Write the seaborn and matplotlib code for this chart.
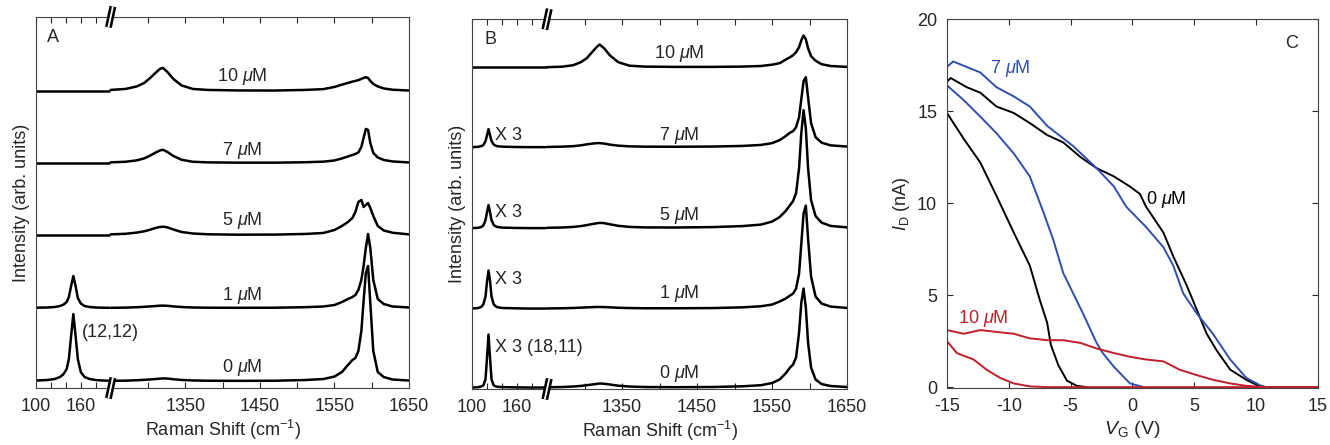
import numpy as np
import matplotlib
matplotlib.use("Agg")
import matplotlib.pyplot as plt
import seaborn as sns

sns.set_style("ticks")
plt.rcParams["font.family"] = ["Liberation Sans", "DejaVu Sans"]
plt.rcParams["mathtext.fontset"] = "custom"
plt.rcParams["mathtext.rm"] = "Liberation Sans"
plt.rcParams["mathtext.it"] = "Liberation Sans:italic"
plt.rcParams["mathtext.bf"] = "Liberation Sans:bold"
plt.rcParams["axes.unicode_minus"] = False

# ---- Raman spectra (intensity above each trace's baseline, arb. units) ----
conc = ["0", "1", "5", "7", "10"]

# high-wavenumber window (D and G bands), shared by A and B
x_hi = [1250, 1270, 1285, 1295, 1303, 1310, 1316, 1320, 1326, 1334, 1345, 1360, 1380,
        1420, 1470, 1510, 1535, 1550, 1560, 1568, 1574, 1578, 1582, 1586, 1589, 1592,
        1595, 1598, 1602, 1608, 1616, 1628, 1650]

# panel A, RBM window
xa_lo = [100, 115, 125, 132, 137, 141, 144, 147, 150, 153, 156, 160, 165, 172, 180, 190, 198]
a0_lo = [0.5, 1, 2, 4, 7, 12, 22, 45, 67, 45, 22, 9, 4, 2, 1, 0.5, 0.3]
a1_lo = [0.3, 0.5, 1, 2, 3.5, 6, 11, 22, 32, 22, 10, 4.5, 2, 1, 0.5, 0.3, 0.2]
a5_lo = [0, 0, 0, 0, 0, 0, 0, 0, 0, 0, 0, 0, 0, 0, 0, 0, 0]
a7_lo = [0, 0, 0, 0, 0, 0, 0, 0, 0, 0, 0, 0, 0, 0, 0, 0, 0]
a10_lo = [0, 0, 0, 0, 0, 0, 0, 0, 0, 0, 0, 0, 0, 0, 0, 0, 0]

a0_hi = [0.2, 0.4, 0.8, 1.2, 1.6, 2, 2.4, 2.6, 2.5, 1.8, 1.1, 0.6, 0.3, 0.2, 0.3, 1, 2,
         4.5, 9, 16, 21, 23, 30, 50, 80, 108, 115, 78, 30, 9, 4, 1.5, 0.5]
a1_hi = [0.2, 0.4, 0.8, 1.2, 1.6, 2, 2.3, 2.4, 2.2, 1.6, 1, 0.5, 0.3, 0.2, 0.3, 0.8, 1.5,
         3, 6, 9, 11, 13, 18, 28, 42, 60, 74, 60, 28, 9, 4, 1.5, 0.5]
a5_hi = [0.6, 1.2, 2.4, 3.7, 5.3, 7, 8, 8.3, 7.6, 5.5, 3, 1.5, 0.7, 0.3, 0.4, 1, 2,
         5, 9, 13, 17, 23, 33, 35, 28, 30, 32, 27, 19, 9, 4.5, 2.2, 0.6]
a7_hi = [0.6, 1.2, 2.6, 4.6, 7.4, 10.3, 12.5, 13.2, 11, 7, 3.2, 1.2, 0.6, 0.3, 0.3, 0.7, 1.3,
         2.5, 4.5, 6.5, 8, 9, 10.5, 16, 25, 34, 33, 20, 10, 5.5, 3, 1.5, 0.5]
a10_hi = [1.0, 2.0, 4.5, 8.0, 13, 18, 22, 23, 19, 12, 5.5, 2.0, 1.0, 0.5, 0.4, 1.0, 1.8,
          4.0, 6.3, 8.0, 9.3, 10, 10.8, 12, 13, 13.7, 13, 10, 7, 4.5, 2.5, 1.2, 0.4]
a_base = [7, 80, 153, 225, 297]

# panel B, RBM window (shown x3)
xb_lo = [100, 108, 112, 115, 118, 120, 122, 124, 126, 129, 133, 140, 155, 175, 198]
b0_lo = [0, 0.3, 1, 2, 8, 30, 53, 30, 8, 2, 0.8, 0.4, 0.2, 0, 0]
b1_lo = [0, 0.5, 1.5, 4, 12, 27, 38, 28, 12, 4, 1.5, 0.6, 0.3, 0, 0]
b5_lo = [0, 0.3, 1, 2.5, 8, 16, 23, 16, 8, 3, 1.2, 0.5, 0.2, 0, 0]
b7_lo = [0, 0.3, 1, 2, 6, 12, 18, 12, 6, 2.5, 1, 0.5, 0.2, 0, 0]
b10_lo = [0, 0, 0, 0, 0, 0, 0, 0, 0, 0, 0, 0, 0, 0, 0]

b0_hi = [0.2, 0.5, 1, 1.6, 2.3, 3, 3.6, 4, 3.8, 3, 1.8, 1, 0.5, 0.3, 0.5, 1.2, 2.3,
         4.5, 8, 14, 20, 23, 30, 55, 85, 99, 80, 45, 20, 8, 3.5, 1.5, 0.5]
b1_hi = [0.1, 0.3, 0.6, 0.9, 1.2, 1.4, 1.6, 1.6, 1.5, 1.2, 0.8, 0.5, 0.3, 0.3, 0.5, 1.2, 2.3,
         4, 7, 10, 13, 15, 20, 35, 65, 95, 103, 70, 32, 12, 5, 2, 0.6]
b5_hi = [0.3, 0.6, 1.2, 2, 3, 4, 4.8, 5.2, 5, 3.8, 2.3, 1.2, 0.7, 0.6, 1, 2, 3.5,
         6.5, 11, 17, 23, 27, 35, 60, 95, 118, 100, 60, 28, 12, 5.5, 2.2, 0.7]
b7_hi = [0.2, 0.5, 1, 1.8, 2.8, 3.5, 4, 4, 3.6, 2.5, 1.5, 0.8, 0.5, 0.4, 0.6, 1.2, 2.2,
         4, 7, 11, 14.5, 16, 20, 30, 48, 66, 70, 50, 24, 10, 4.5, 1.8, 0.6]
b10_hi = [0, 0.5, 2, 5, 9, 15, 20, 22.7, 19, 11.7, 5, 1.5, 0.6, 0.3, 0.3, 0.6, 1.2,
          2.5, 4, 7.5, 10, 12, 15, 20, 27, 31.7, 28, 19, 11, 6.5, 3, 1.2, 0.3]
b_base = [1.5, 80.5, 161, 242, 322]

# ---- transfer curves (panel C) ----
c0_fwd_v = [-15, -14.7, -13.4, -12.3, -11.0, -9.6, -8.3, -6.9, -5.6, -4.2, -2.9, -1.5, -0.2,
            0.6, 1.1, 2.5, 3.3, 4.4, 5.2, 6.0, 6.8, 7.9, 9.2, 10.0, 10.8, 15]
c0_fwd_i = [16.6, 16.8, 16.3, 16.0, 15.25, 14.9, 14.35, 13.7, 13.3, 12.5, 11.9, 11.45, 10.9,
            10.5, 9.8, 8.4, 7.1, 5.5, 4.2, 2.9, 2.0, 0.95, 0.4, 0.13, 0.0, 0.0]
c0_rev_v = [-15, -13.65, -12.3, -11.0, -9.6, -8.3, -7.5, -6.9, -6.6, -6.0, -5.3, -4.5, -3.7]
c0_rev_i = [14.9, 13.5, 12.2, 10.4, 8.4, 6.6, 4.75, 3.5, 2.3, 1.2, 0.35, 0.07, 0.0]
c7_fwd_v = [-15, -14.5, -13.4, -12.3, -11.0, -9.6, -8.3, -6.9, -4.8, -2.9, -1.5, -0.5, 1.1,
            2.5, 3.3, 4.1, 5.2, 6.5, 7.9, 9.2, 10.6, 15]
c7_fwd_i = [17.4, 17.7, 17.4, 17.1, 16.3, 15.8, 15.25, 14.2, 13.1, 11.9, 10.9, 9.8, 8.7,
            7.6, 6.6, 5.1, 4.0, 2.9, 1.5, 0.5, 0.0, 0.0]
c7_rev_v = [-15, -13.65, -12.3, -11.0, -9.6, -8.3, -7.2, -6.4, -5.6, -4.8, -4.0, -2.9, -2.4,
            -1.5, -0.2, 0.9]
c7_rev_i = [16.4, 15.6, 14.7, 13.8, 12.7, 11.45, 9.5, 8.0, 6.2, 5.1, 4.0, 2.4, 1.85,
            1.1, 0.2, 0.0]
c10_fwd_v = [-15, -13.65, -12.3, -11.0, -9.6, -8.3, -6.9, -5.6, -4.2, -2.9, -1.5, -0.2, 1.1,
             2.5, 3.8, 5.2, 6.5, 7.9, 9.2, 10.6, 15]
c10_fwd_i = [3.1, 2.9, 3.1, 3.0, 2.9, 2.65, 2.55, 2.55, 2.4, 2.1, 1.85, 1.65, 1.5,
             1.4, 0.95, 0.65, 0.4, 0.2, 0.07, 0.0, 0.0]
c10_rev_v = [-15, -14.2, -12.85, -11.8, -10.7, -9.6, -8.3, -6.9, 15]
c10_rev_i = [2.5, 1.85, 1.5, 0.95, 0.5, 0.2, 0.04, 0.0, 0.0]

BLUE = "#2f4fb0"
RED = "#c01f2a"
FS = 13
GAP = 1050  # 1250 cm-1 is drawn right after 200 cm-1

fig = plt.figure(figsize=(13.3, 4.45), dpi=100)
axA = fig.add_axes([0.0271, 0.128, 0.2805, 0.834])
axB = fig.add_axes([0.3549, 0.1258, 0.282, 0.831])
axC = fig.add_axes([0.712, 0.128, 0.279, 0.829])


def raman_panel(ax, x_lo, lows, highs, base, ytop):
    for lo, hi, b in zip(lows, highs, base):
        sns.lineplot(x=x_lo, y=np.array(lo) + b, ax=ax, color="k", lw=1.8, estimator=None)
        sns.lineplot(x=np.array(x_hi) - GAP, y=np.array(hi) + b, ax=ax, color="k",
                     lw=1.8, estimator=None)
    ax.set_xlim(100, 600)
    ax.set_ylim(0, ytop)
    ax.set_yticks([])
    ax.set_xticks([100, 160, 300, 400, 500, 600])
    ax.set_xticklabels(["100", "160", "1350", "1450", "1550", "1650"])
    ax.set_xticks([120, 140, 180, 250, 350, 450, 550], minor=True)
    ax.tick_params(axis="x", which="both", direction="in", top=True, length=4.5,
                   width=0.8, labelsize=FS, pad=7)
    ax.set_xlabel("Raman Shift (cm$^{-1}$)", fontsize=FS, labelpad=2)
    ax.set_ylabel("Intensity (arb. units)", fontsize=FS, labelpad=4)
    for s in ax.spines.values():
        s.set_linewidth(0.8)
        s.set_color("#444444")
    # axis break marks
    tr = ax.get_xaxis_transform()
    for yc in (0.0, 1.0):
        ax.plot([197, 203], [yc - 0.028, yc + 0.028], transform=tr, color="k", lw=5,
                clip_on=False, solid_capstyle="butt", zorder=5)
        ax.plot([197, 203], [yc - 0.028, yc + 0.028], transform=tr, color="white", lw=1.3,
                clip_on=False, solid_capstyle="butt", zorder=6)


raman_panel(axA, xa_lo, [a0_lo, a1_lo, a5_lo, a7_lo, a10_lo],
            [a0_hi, a1_hi, a5_hi, a7_hi, a10_hi], a_base, 371)
raman_panel(axB, xb_lo, [b0_lo, b1_lo, b5_lo, b7_lo, b10_lo],
            [b0_hi, b1_hi, b5_hi, b7_hi, b10_hi], b_base, 370)

for c, y in zip(conc, [21, 93, 167, 237, 311]):
    axA.text(376, y, c + r" $\mu$M", ha="center", va="center", fontsize=FS)
axA.text(162, 56, "(12,12)", ha="left", va="center", fontsize=FS)
axA.text(123, 350, "A", ha="center", va="center", fontsize=FS)

for c, y in zip(conc, [16, 96, 174, 254, 336]):
    axB.text(376, y, c + r" $\mu$M", ha="center", va="center", fontsize=FS)
for lab, y in zip(["X 3 (18,11)", "X 3", "X 3", "X 3"], [42, 110, 177, 254]):
    axB.text(131, y, lab, ha="left", va="center", fontsize=FS)
axB.text(125, 350, "B", ha="center", va="center", fontsize=FS)

# panel C
for v, i, col in [(c0_fwd_v, c0_fwd_i, "k"), (c0_rev_v, c0_rev_i, "k"),
                  (c7_fwd_v, c7_fwd_i, BLUE), (c7_rev_v, c7_rev_i, BLUE),
                  (c10_fwd_v, c10_fwd_i, RED), (c10_rev_v, c10_rev_i, RED)]:
    sns.lineplot(x=v, y=i, ax=axC, color=col, lw=1.4, estimator=None)
axC.set_xlim(-15, 15)
axC.set_ylim(-0.05, 20)
axC.set_xticks([-15, -10, -5, 0, 5, 10, 15])
axC.set_yticks([0, 5, 10, 15, 20])
axC.tick_params(direction="in", top=True, right=True, length=4.5, width=0.8,
                labelsize=FS, pad=7)
for s in axC.spines.values():
    s.set_linewidth(0.8)
    s.set_color("#444444")
axC.set_xlabel(r"$V_{\rm G}$ (V)", fontsize=FS + 1, labelpad=3)
axC.set_ylabel(r"$I_{\rm D}$ (nA)", fontsize=FS, labelpad=4)
axC.text(-9.9, 17.3, r"7 $\mu$M", color=BLUE, ha="center", va="center", fontsize=FS)
axC.text(1.1, 10.2, r"0 $\mu$M", color="k", ha="left", va="center", fontsize=FS)
axC.text(-14.1, 3.75, r"10 $\mu$M", color=RED, ha="left", va="center", fontsize=FS)
axC.text(12.9, 18.7, "C", ha="center", va="center", fontsize=FS)

fig.savefig("out.png", dpi=100)
